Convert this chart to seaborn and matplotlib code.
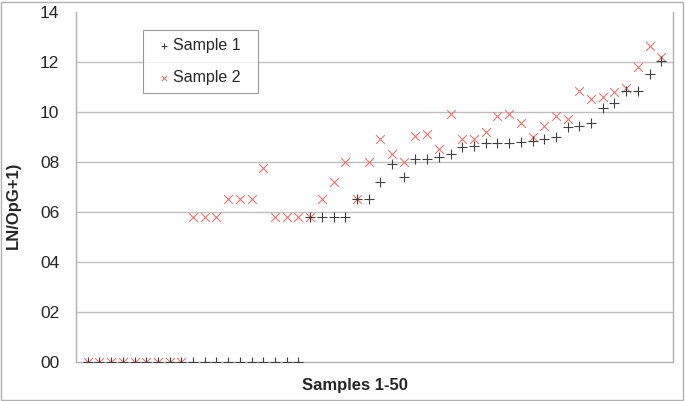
import matplotlib
matplotlib.use("Agg")
import matplotlib.pyplot as plt
from matplotlib.patches import Rectangle
import seaborn as sns

# ---------------------------------------------------------------------------
# DATA
# ---------------------------------------------------------------------------
samples = list(range(1, 51))

sample1 = [0] * 19 + [
    5.8, 5.8, 5.8, 5.8, 6.5, 6.5, 7.2, 7.9, 7.4, 8.1,
    8.1, 8.2, 8.3, 8.6, 8.65, 8.75, 8.75, 8.75, 8.8, 8.85,
    8.9, 9.0, 9.4, 9.45, 9.55, 10.15, 10.35, 10.85, 10.85, 11.5,
    12.05,
]

sample2 = [0] * 9 + [
    5.8, 5.8, 5.8, 6.5, 6.5, 6.5, 7.75, 5.8, 5.8, 5.8,
    5.8, 6.5, 7.2, 8.0, 6.5, 8.0, 8.9, 8.3, 8.0, 9.05,
    9.1, 8.5, 9.9, 8.9, 8.9, 9.2, 9.85, 9.9, 9.55, 9.0,
    9.45, 9.85, 9.7, 10.85, 10.5, 10.6, 10.8, 10.95, 11.8, 12.65,
    12.2,
]

y_ticks = [0, 2, 4, 6, 8, 10, 12, 14]
y_tick_labels = ["00", "02", "04", "06", "08", "10", "12", "14"]

# ---------------------------------------------------------------------------
# STYLE
# ---------------------------------------------------------------------------
sns.set_style("white")
plt.rcParams["font.family"] = ["Liberation Sans", "DejaVu Sans"]

fig = plt.figure(figsize=(6.85, 4.01), dpi=100)
ax = fig.add_axes([76 / 685, 39 / 401, 597 / 685, 350 / 401])

sns.scatterplot(x=samples, y=sample1, marker="+", color="#404040",
                s=55, linewidth=0.8, label="Sample 1", ax=ax, zorder=3)
sns.scatterplot(x=samples, y=sample2, marker="x", color="#e27676",
                s=40, linewidth=0.8, label="Sample 2", ax=ax, zorder=2)

ax.set_xlim(0, 51)
ax.set_ylim(0, 14)
ax.set_xticks([])
ax.set_yticks(y_ticks)
ax.set_yticklabels(y_tick_labels, fontsize=12.5)
ax.tick_params(axis="y", length=0, pad=12)

for v in y_ticks[1:-1]:
    ax.axhline(v, color="#c0c0c0", linewidth=1.0, zorder=0)

for side in ["left", "bottom", "right"]:
    ax.spines[side].set_color("#b0b0b0")
    ax.spines[side].set_linewidth(1.0)
ax.spines["top"].set_visible(False)

ax.set_xlabel("Samples 1-50", fontsize=12, fontweight="bold")
ax.xaxis.set_label_coords(0.467, -0.047)
ax.set_ylabel("LN/OpG+1)", fontsize=12, fontweight="bold")
ax.yaxis.set_label_coords(-0.092, 0.449)

leg = ax.legend(loc="upper left", bbox_to_anchor=(0.112, 0.948),
                borderaxespad=0, fancybox=False, fontsize=11.5,
                handletextpad=-0.2, labelspacing=1.05, borderpad=0.5,
                handlelength=1.6, markerscale=0.6)
leg.get_frame().set_edgecolor("#808080")
leg.get_frame().set_linewidth(0.8)
leg.get_texts()[0].set_text("Sample 1  ")
leg.get_texts()[1].set_text("Sample 2  ")

fig.patches.append(Rectangle((0.002, 0.003), 0.995, 0.993, transform=fig.transFigure,
                             fill=False, edgecolor="#b0b0b0", linewidth=1.0))

fig.savefig("out.png", dpi=100)
